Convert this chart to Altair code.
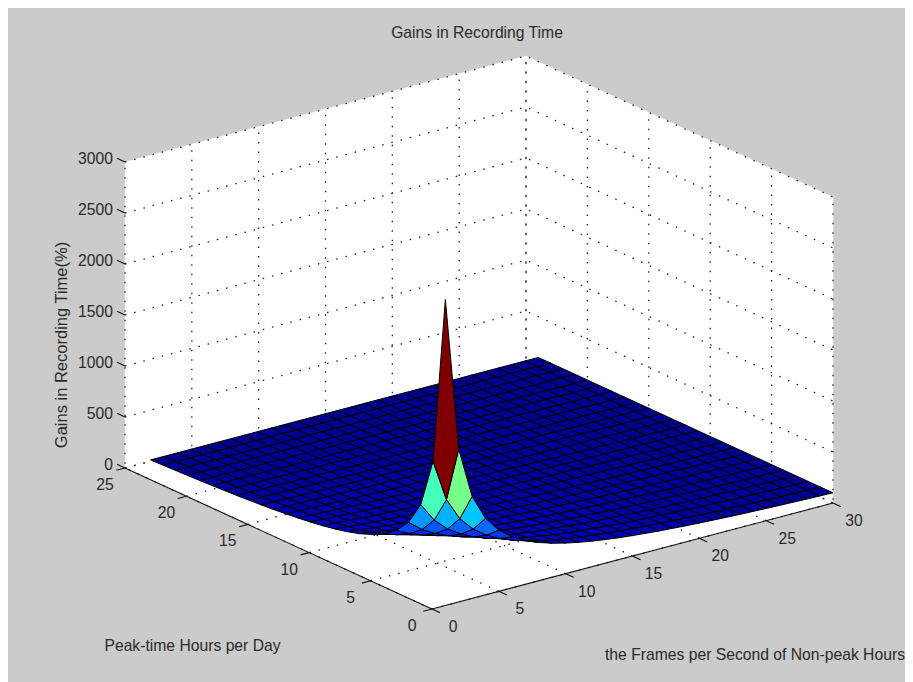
import altair as alt
import pandas as pd

# Axis ticks
x_ticks = [0, 5, 10, 15, 20, 25, 30]
y_ticks = [0, 5, 10, 15, 20, 25]
z_ticks = [0, 500, 1000, 1500, 2000, 2500, 3000]

# Surface sample positions
x_nodes = list(range(1, 31))
y_nodes = list(range(0, 25))

# Gain (%) read for each peak-time hour (rows, y = 0..24), per frame rate (columns, x = 1..30)
gain_rows = [
 [3000,1500,1000,750,600,500,429,375,333,300,273,250,231,214,200,188,176,167,158,150,143,136,130,125,120,115,111,107,103,100],
 [1358,947,727,590,497,429,377,336,304,277,254,235,219,205,192,181,171,162,154,147,140,134,129,124,119,115,111,107,103,100],
 [878,692,571,486,424,375,336,305,279,257,238,222,208,196,185,175,166,158,151,144,138,132,127,122,118,114,110,107,103,100],
 [649,545,471,414,369,333,304,279,258,240,224,211,198,188,178,169,161,154,147,141,136,130,126,121,117,113,110,106,103,100],
 [514,450,400,360,327,300,277,257,240,225,212,200,189,180,171,164,157,150,144,138,133,129,124,120,116,113,109,106,103,100],
 [426,383,348,319,294,273,254,238,224,212,201,190,181,173,166,159,152,146,141,136,131,127,123,119,115,112,109,106,103,100],
 [364,333,308,286,267,250,235,222,211,200,190,182,174,167,160,154,148,143,138,133,129,125,121,118,114,111,108,105,103,100],
 [317,295,276,259,244,231,219,208,198,189,181,174,167,161,155,149,144,140,135,131,127,123,120,117,113,110,108,105,102,100],
 [281,265,250,237,225,214,205,196,188,180,173,167,161,155,150,145,141,136,132,129,125,122,118,115,113,110,107,105,102,100],
 [253,240,229,218,209,200,192,185,178,171,166,160,155,150,145,141,137,133,130,126,123,120,117,114,112,109,107,104,102,100],
 [229,220,211,202,195,188,181,175,169,164,159,154,149,145,141,137,134,130,127,124,121,118,116,113,111,108,106,104,102,100],
 [210,202,195,188,182,176,171,166,161,157,152,148,144,141,137,134,131,128,125,122,119,117,114,112,110,108,106,104,102,100],
 [194,188,182,176,171,167,162,158,154,150,146,143,140,136,133,130,128,125,122,120,118,115,113,111,109,107,105,103,102,100],
 [180,175,170,166,162,158,154,151,147,144,141,138,135,132,130,127,125,122,120,118,116,114,112,110,108,107,105,103,102,100],
 [167,164,160,157,153,150,147,144,141,138,136,133,131,129,126,124,122,120,118,116,114,113,111,109,107,106,104,103,101,100],
 [157,154,151,148,145,143,140,138,136,133,131,129,127,125,123,121,119,118,116,114,113,111,110,108,107,105,104,103,101,100],
 [148,145,143,141,138,136,134,132,130,129,127,125,123,122,120,118,117,115,114,113,111,110,108,107,106,105,103,102,101,100],
 [139,137,136,134,132,130,129,127,126,124,123,121,120,118,117,116,114,113,112,111,110,108,107,106,105,104,103,102,101,100],
 [132,130,129,128,126,125,124,122,121,120,119,118,117,115,114,113,112,111,110,109,108,107,106,105,104,103,103,102,101,100],
 [125,124,123,122,121,120,119,118,117,116,115,114,113,113,112,111,110,109,108,107,107,106,105,104,104,103,102,101,101,100],
 [119,118,118,117,116,115,115,114,113,113,112,111,110,110,109,108,108,107,107,106,105,105,104,103,103,102,102,101,101,100],
 [114,113,113,112,112,111,111,110,110,109,109,108,108,107,107,106,106,105,105,104,104,103,103,103,102,102,101,101,100,100],
 [109,108,108,108,107,107,107,107,106,106,106,105,105,105,104,104,104,103,103,103,103,102,102,102,101,101,101,101,100,100],
 [104,104,104,104,104,103,103,103,103,103,103,103,102,102,102,102,102,102,102,101,101,101,101,101,101,101,100,100,100,100],
 [100,100,100,100,100,100,100,100,100,100,100,100,100,100,100,100,100,100,100,100,100,100,100,100,100,100,100,100,100,100],
]

title_text = "Gains in Recording Time"
x_title = "the Frames per Second of Non-peak Hours"
y_title = "Peak-time Hours per Day"
z_title = "Gains in Recording Time(%)"

# View of the 3-D box: screen position of the origin and screen step per data unit
W, H = 897, 674
OX, OY = 424.0, 601.0
UX = (401 / 30, -106 / 30)
UY = (-307 / 25, -141 / 25)
UZ = -306 / 3000
XMAX, YMAX, ZMAX = 30, 25, 3000


def proj(x, y, z=0):
    return [OX + x * UX[0] + y * UY[0], OY + x * UX[1] + y * UY[1] + z * UZ]


def line(*pts):
    return {"type": "Feature", "properties": {},
            "geometry": {"type": "LineString", "coordinates": [proj(*p) for p in pts]}}


def poly(pts, **props):
    ring = [proj(*p) for p in pts]
    ring.append(ring[0])
    return {"type": "Feature", "properties": props,
            "geometry": {"type": "Polygon", "coordinates": [ring]}}


identity = alt.Projection(type="identity", scale=1, translate=[0, 0])

walls = [
    poly([(0, 0), (XMAX, 0), (XMAX, YMAX), (0, YMAX)]),
    poly([(0, YMAX), (XMAX, YMAX), (XMAX, YMAX, ZMAX), (0, YMAX, ZMAX)]),
    poly([(XMAX, 0), (XMAX, YMAX), (XMAX, YMAX, ZMAX), (XMAX, 0, ZMAX)]),
]

grid = []
for t in x_ticks:
    grid.append(line((t, 0), (t, YMAX), (t, YMAX, ZMAX)))
for t in y_ticks:
    grid.append(line((0, t), (XMAX, t), (XMAX, t, ZMAX)))
for t in z_ticks:
    grid.append(line((0, YMAX, t), (XMAX, YMAX, t), (XMAX, 0, t)))

cells = []
for j in range(len(y_nodes) - 2, -1, -1):
    for i in range(len(x_nodes) - 2, -1, -1):
        x0, x1 = x_nodes[i], x_nodes[i + 1]
        y0, y1 = y_nodes[j], y_nodes[j + 1]
        cells.append(poly([
            (x0, y0, gain_rows[j][i]), (x1, y0, gain_rows[j][i + 1]),
            (x1, y1, gain_rows[j + 1][i + 1]), (x0, y1, gain_rows[j + 1][i]),
        ], gain=gain_rows[j][i]))

axes = [line((0, 0), (XMAX, 0)), line((0, 0), (0, YMAX))]
TICK = 0.65
for t in x_ticks:
    axes.append(line((t, 0), (t, -TICK)))
for t in y_ticks:
    axes.append(line((0, t), (-TICK, t)))
for t in z_ticks:
    axes.append(line((0, YMAX, t), (0, YMAX + TICK, t)))


def geo(features):
    return alt.Data(values=features)


wall_layer = alt.Chart(geo(walls)).mark_geoshape(fill="white", stroke="white", strokeWidth=0.5).project(**identity.to_dict())
grid_layer = alt.Chart(geo(grid)).mark_geoshape(filled=False, stroke="#222222", strokeWidth=1.3, strokeDash=[1.5, 8]).project(**identity.to_dict())

t_stops = [0, 0.117, 0.367, 0.617, 0.867, 1]
jet = ["#000090", "#0000ff", "#00ffff", "#ffff00", "#ff0000", "#800000"]
surface = alt.Chart(geo(cells)).mark_geoshape(stroke="#000000", strokeWidth=1).encode(
    color=alt.Color("properties.gain:Q", legend=None,
                    scale=alt.Scale(domain=[100 + 2900 * t for t in t_stops], range=jet, interpolate="rgb"))
).project(**identity.to_dict())
axis_layer = alt.Chart(geo(axes)).mark_geoshape(filled=False, stroke="#111111", strokeWidth=1.1).project(**identity.to_dict())

X = alt.X("px:Q", scale=alt.Scale(domain=[0, W], nice=False, zero=False), axis=None)
Y = alt.Y("py:Q", scale=alt.Scale(domain=[H, 0], nice=False, zero=False), axis=None)
FONT = "Liberation Sans"
SIZE = 15.7
COL = "#2a2a2a"


def labels(rows, size=SIZE, **kw):
    df = pd.DataFrame(rows, columns=["px", "py", "label"])
    return alt.Chart(df).mark_text(font=FONT, fontSize=size, color=COL, **kw).encode(x=X, y=Y, text="label:N")


x_labels = labels([(*proj(t, 0), str(t)) for t in x_ticks], dx=21, dy=18)
y_labels = labels([(*proj(0, t), str(t)) for t in y_ticks], dx=-20, dy=17)
z_labels = labels([(*proj(0, YMAX, t), str(t)) for t in z_ticks], dx=-12, dy=-3, align="right")

titles = labels([(469, 25, title_text), (184.5, 638, y_title), (747, 647, x_title)])
z_title_layer = labels([(54, 337, z_title)], size=16.5, angle=270)

chart = alt.layer(
    wall_layer, grid_layer, surface, axis_layer,
    x_labels, y_labels, z_labels, titles, z_title_layer,
).properties(
    width=W, height=H, padding=0, autosize="none", background="#cbcbcb",
).configure_view(stroke=None)

chart.save("out.html", embed_options={"renderer": "svg", "actions": False})
